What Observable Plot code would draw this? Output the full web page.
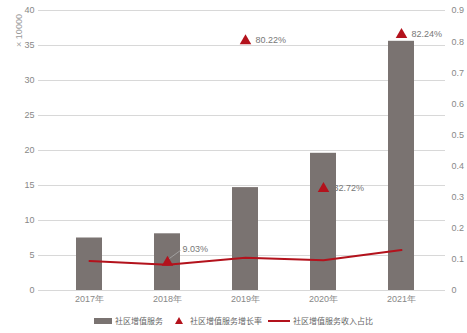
<!DOCTYPE html>
<html><head><meta charset="utf-8">
<script src="https://cdn.jsdelivr.net/npm/d3@7"></script>
<script src="https://cdn.jsdelivr.net/npm/@observablehq/plot@0.6"></script>
<style>
body{margin:0;background:#fff;font-family:"Liberation Sans",sans-serif;}
#legend{display:flex;justify-content:center;align-items:center;font-family:"Noto Sans CJK SC",sans-serif;font-size:8px;color:#666;margin-top:7px;padding-left:0px;}
#legend span{display:inline-flex;align-items:center;margin:0 3px;}
#legend svg{margin-right:3px;}
</style></head><body>
<div id="chart"></div>
<script>
const years = ["2017年","2018年","2019年","2020年","2021年"];
const service = [7.5, 8.1, 14.7, 19.6, 35.6];          // ×10000
const growth = [null, 0.0903, 0.8022, 0.3272, 0.8224];
const growthLabels = [null, "9.03%", "80.22%", "32.72%", "82.24%"];
const share = [0.095, 0.083, 0.105, 0.097, 0.13];
const leftTicks = [0,5,10,15,20,25,30,35,40];
const rightTicks = [0,0.1,0.2,0.3,0.4,0.5,0.6,0.7,0.8,0.9];
const legendNames = ["社区增值服务","社区增值服务增长率","社区增值服务收入占比"];

const k = 40/0.9;
const data = years.map((y,i)=>({year:y, service:service[i], growth:growth[i], label:growthLabels[i], share:share[i]}));
const gdata = data.filter(d=>d.growth!=null);
const barColor = "#7a7371", red = "#b3121c";

const chart = Plot.plot({
  width:467, height:308,
  marginTop:10, marginBottom:18, marginLeft:38, marginRight:22,
  style:{fontFamily:"Liberation Sans, sans-serif", fontSize:"9px", color:"#888"},
  x:{domain:years, range:[47.6,441.4], paddingInner:0.67, paddingOuter:0.335, label:null},
  y:{domain:[0,40], label:null},
  marks:[
    Plot.gridY(leftTicks,{stroke:"#d8d8d8", strokeOpacity:1}),
    Plot.axisY(leftTicks,{anchor:"left", tickSize:0, tickPadding:4, label:null, fill:"#888"}),
    Plot.axisY(rightTicks.map(v=>v*k),{anchor:"right", tickSize:0, tickPadding:6, label:null, fill:"#888", tickFormat:d=>String(+(d/k).toFixed(1))}),
    Plot.text(["× 10000"],{frameAnchor:"top-left", dx:-23, dy:20, rotate:-90, textAnchor:"middle", fill:"#999", fontSize:9}),
    Plot.axisX({tickSize:0, tickPadding:5, label:null, fill:"#888"}),
    Plot.barY(data,{x:"year", y:"service", fill:barColor}),
    Plot.ruleY([0],{stroke:"#d8d8d8"}),
    Plot.line(data,{x:"year", y:d=>d.share*k, stroke:red, strokeWidth:2}),
    Plot.dot(gdata,{x:"year", y:d=>d.growth*k, symbol:"triangle", r:4.3, fill:red, stroke:"none"}),
    Plot.text(gdata.filter(d=>d.year!=="2018年"),{x:"year", y:d=>d.growth*k, text:"label", textAnchor:"start", dx:10, dy:-1, fill:"#777", fontSize:9}),
    Plot.text(gdata.filter(d=>d.year==="2018年"),{x:"year", y:d=>d.growth*k, text:"label", textAnchor:"start", dx:15, dy:-13, fill:"#777", fontSize:9}),
    Plot.link(gdata.filter(d=>d.year==="2018年"),{x1:"year", x2:"year", y1:d=>d.growth*k, y2:d=>d.growth*k, stroke:"#aaa", strokeWidth:0.8,
      render:(index, scales, values, dims, context, next)=>{
        const g = next(index, scales, values, dims, context);
        d3.select(g).selectAll("path").attr("d", (_, j)=>{
          const i = index[j]; const x = values.x1[i], y = values.y1[i];
          return `M${x+2},${y-4}L${x+13},${y-12}`;
        });
        return g;
      }})
  ]
});
document.getElementById("chart").append(chart);

const lg = document.createElement("div"); lg.id="legend";
lg.innerHTML = `<span><svg width="18" height="6"><rect width="18" height="6" fill="${barColor}"/></svg>${legendNames[0]}</span>
<span style="margin-left:8px"><svg width="10" height="9" style="margin-right:6px"><path d="M5,1L9,8H1Z" fill="${red}"/></svg>${legendNames[1]}</span>
<span><svg width="22" height="4"><rect y="1" width="22" height="2" fill="${red}"/></svg>${legendNames[2]}</span>`;
document.body.append(lg);
</script>
</body></html>
